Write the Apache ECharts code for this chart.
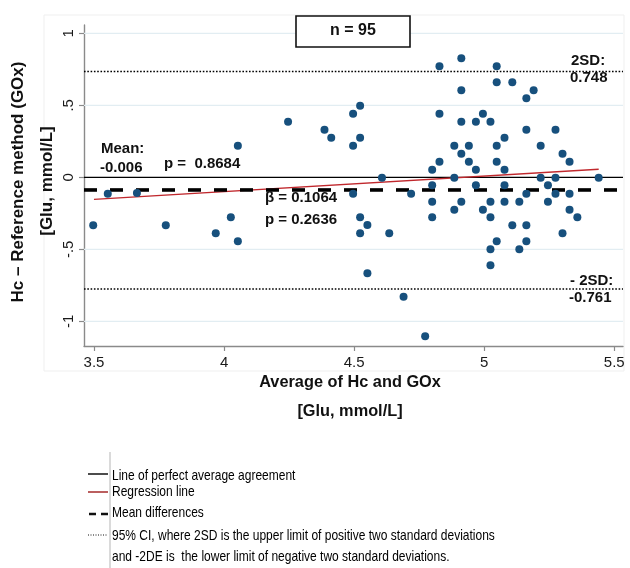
<!DOCTYPE html>
<html><head><meta charset="utf-8">
<script src="https://cdn.jsdelivr.net/npm/echarts@6/dist/echarts.min.js"></script>
<style>html,body{margin:0;padding:0;background:#fff}#c{width:630px;height:568px}</style>
</head><body><div id="c"></div>
<script>
// ---- data ----
const xTicks = [3.5, 4, 4.5, 5, 5.5];
const yTicks = [-1, -0.5, 0, 0.5, 1];
const xRange = [3.4616, 5.5335];
const yRange = [-1.1715, 1.0576];

const avgX = [
  3.497, 3.553, 3.665, 3.776, 3.968, 4.026, 4.053, 4.053,
  4.246, 4.386, 4.412, 4.496, 4.523, 4.523, 4.496, 4.607, 4.496, 4.523, 4.551, 4.523, 4.635, 4.551, 4.690,
  4.828, 4.912, 4.912, 4.828, 4.912, 4.968, 4.995, 4.885, 4.941, 4.912, 4.941, 4.828, 4.800, 4.968, 4.885,
  4.800, 4.968, 4.719, 4.800, 4.912, 4.885, 4.995, 4.800, 4.773,
  5.048, 5.048, 5.108, 5.162, 5.190, 5.024, 5.162, 5.078, 5.048, 5.217, 5.048, 5.078, 5.078, 5.217,
  5.162, 5.024, 5.078, 5.135, 5.024, 5.108, 5.162, 5.048, 5.162, 5.024, 5.135, 5.024,
  5.274, 5.301, 5.328, 5.274, 5.440, 5.245, 5.274, 5.328, 5.245, 5.328, 5.358, 5.301
];
const diffY = [
  -0.333, -0.114, -0.109, -0.333, -0.389, -0.278, -0.444, 0.219,
  0.386, 0.331, 0.275, 0.442, 0.497, 0.275, 0.219, -0.003, -0.114, -0.278, -0.331, -0.389, -0.389, -0.667, -0.829,
  0.771, 0.826, 0.604, 0.442, 0.386, 0.386, 0.442, 0.219, 0.219, 0.164, 0.108, 0.108, 0.053, 0.053, -0.003,
  -0.056, -0.056, -0.114, -0.169, -0.169, -0.225, -0.225, -0.278, -1.104,
  0.771, 0.660, 0.660, 0.549, 0.604, 0.386, 0.331, 0.275, 0.219, 0.219, 0.108, 0.053, -0.056, -0.003,
  -0.114, -0.169, -0.169, -0.169, -0.278, -0.333, -0.333, -0.444, -0.444, -0.500, -0.500, -0.611,
  0.331, 0.164, 0.108, -0.003, -0.003, -0.056, -0.114, -0.114, -0.169, -0.225, -0.278, -0.389
];

const zeroLine = 0;
const meanDiffLine = -0.088;
const upperSD = 0.735;
const lowerSD = -0.776;
const regX = [3.5, 5.44];
const regY = [-0.153, 0.056];

// ---- chart ----
const chart = echarts.init(document.getElementById('c'), null, {renderer: 'canvas'});
const FF = '"Liberation Sans", Arial, sans-serif';
const hLine = (y) => [[xRange[0], y], [xRange[1], y]];

const gridSeries = yTicks.filter(t => t !== 0).map(t => ({
  type: 'line', data: hLine(t), showSymbol: false, silent: true, z: 1,
  lineStyle: {color: '#e2edf2', width: 1.2}
}));

const option = {
  animation: false,
  backgroundColor: '#fff',
  grid: {left: 84, right: 7, top: 25, bottom: 222, containLabel: false},
  xAxis: {
    type: 'value', min: xRange[0], max: xRange[1],
    axisLine: {show: true, onZero: false, lineStyle: {color: '#8a8a8a', width: 1.4}},
    axisTick: {show: true, customValues: xTicks, length: 5, lineStyle: {color: '#8a8a8a', width: 1.2}},
    axisLabel: {customValues: xTicks, fontSize: 15, fontFamily: FF, color: '#1a1a1a', margin: 9,
      formatter: v => String(v)},
    splitLine: {show: false}
  },
  yAxis: {
    type: 'value', min: yRange[0], max: yRange[1],
    axisLine: {show: true, onZero: false, lineStyle: {color: '#8a8a8a', width: 1.4}},
    axisTick: {show: true, customValues: yTicks, length: 5, lineStyle: {color: '#8a8a8a', width: 1.2}},
    axisLabel: {customValues: yTicks, rotate: 90, fontSize: 15, fontFamily: FF, color: '#1a1a1a', margin: 8,
      formatter: v => String(v).replace('0.', '.')},
    splitLine: {show: false}
  },
  series: [
    ...gridSeries,
    {type: 'line', data: hLine(upperSD), showSymbol: false, silent: true, z: 2,
      lineStyle: {color: '#000', width: 1.6, type: [1.6, 1.7]}},
    {type: 'line', data: hLine(lowerSD), showSymbol: false, silent: true, z: 2,
      lineStyle: {color: '#000', width: 1.6, type: [1.6, 1.7]}},
    {type: 'line', data: hLine(zeroLine), showSymbol: false, silent: true, z: 2,
      lineStyle: {color: '#000', width: 1.3}},
    {type: 'line', data: regX.map((x, i) => [x, regY[i]]), showSymbol: false, silent: true, z: 3,
      lineStyle: {color: '#c0282d', width: 1.3}},
    {type: 'line', data: hLine(meanDiffLine), showSymbol: false, silent: true, z: 3,
      lineStyle: {color: '#000', width: 3.6, type: [13, 13]}},
    {type: 'scatter', data: avgX.map((x, i) => [x, diffY[i]]), symbolSize: 8, z: 5,
      itemStyle: {color: '#17507d', opacity: 1}}
  ],
  graphic: [
    {type: 'rect', shape: {x: 44, y: 15, width: 580, height: 356}, style: {fill: 'none', stroke: '#efefef', lineWidth: 1}, z: -1},
    {type: 'rect', shape: {x: 296, y: 16, width: 114, height: 31}, style: {fill: '#fff', stroke: '#111', lineWidth: 1.6}, z: 10},
    {type: 'text', z: 11, style: {text: 'n = 95', x: 353, y: 31, align: 'center', verticalAlign: 'middle', font: 'bold 16px ' + FF, fill: '#111'}},
    {type: 'text', z: 11, style: {text: 'Mean:', x: 101, y: 148.5, verticalAlign: 'middle', font: 'bold 15px ' + FF, fill: '#111'}},
    {type: 'text', z: 11, style: {text: '-0.006', x: 100, y: 167.5, verticalAlign: 'middle', font: 'bold 15px ' + FF, fill: '#111'}},
    {type: 'text', z: 11, style: {text: 'p =  0.8684', x: 164, y: 164, verticalAlign: 'middle', font: 'bold 15px ' + FF, fill: '#111'}},
    {type: 'text', z: 11, style: {text: 'β = 0.1064', x: 265, y: 198, verticalAlign: 'middle', font: 'bold 15px ' + FF, fill: '#111'}},
    {type: 'text', z: 11, style: {text: 'p = 0.2636', x: 265, y: 220, verticalAlign: 'middle', font: 'bold 15px ' + FF, fill: '#111'}},
    {type: 'text', z: 11, style: {text: '2SD:', x: 571, y: 60.5, verticalAlign: 'middle', font: 'bold 15px ' + FF, fill: '#111'}},
    {type: 'text', z: 11, style: {text: '0.748', x: 570, y: 78, verticalAlign: 'middle', font: 'bold 15px ' + FF, fill: '#111'}},
    {type: 'text', z: 11, style: {text: '- 2SD:', x: 570, y: 281, verticalAlign: 'middle', font: 'bold 15px ' + FF, fill: '#111'}},
    {type: 'text', z: 11, style: {text: '-0.761', x: 569, y: 298, verticalAlign: 'middle', font: 'bold 15px ' + FF, fill: '#111'}},
    // axis titles
    {type: 'text', z: 11, x: 18, y: 182, rotation: Math.PI / 2,
      style: {text: 'Hc – Reference method (GOx)', x: 0, y: 0, align: 'center', verticalAlign: 'middle', font: 'bold 17px ' + FF, fill: '#111'}},
    {type: 'text', z: 11, x: 47, y: 181, rotation: Math.PI / 2,
      style: {text: '[Glu, mmol/L]', x: 0, y: 0, align: 'center', verticalAlign: 'middle', font: 'bold 17px ' + FF, fill: '#111'}},
    {type: 'text', z: 11, x: 350, y: 382, scaleX: 0.96, style: {text: 'Average of Hc and GOx', x: 0, y: 0, align: 'center', verticalAlign: 'middle', font: 'bold 17px ' + FF, fill: '#111'}},
    {type: 'text', z: 11, x: 350, y: 411, scaleX: 0.96, style: {text: '[Glu, mmol/L]', x: 0, y: 0, align: 'center', verticalAlign: 'middle', font: 'bold 17px ' + FF, fill: '#111'}},
    // legend
    {type: 'line', shape: {x1: 110, y1: 452, x2: 110, y2: 568}, style: {stroke: '#b5b5b5', lineWidth: 1}},
    {type: 'line', shape: {x1: 88, y1: 474, x2: 108, y2: 474}, style: {stroke: '#111', lineWidth: 1.5}},
    {type: 'line', shape: {x1: 88, y1: 492, x2: 108, y2: 492}, style: {stroke: '#a52a2a', lineWidth: 1.5}},
    {type: 'line', shape: {x1: 89, y1: 514, x2: 96, y2: 514}, style: {stroke: '#111', lineWidth: 2.5}},
    {type: 'line', shape: {x1: 101, y1: 514, x2: 108, y2: 514}, style: {stroke: '#111', lineWidth: 2.5}},
    {type: 'line', shape: {x1: 88, y1: 535, x2: 108, y2: 535}, style: {stroke: '#111', lineWidth: 1, lineDash: [1, 1.5]}},
    {type: 'text', x: 112, y: 475.5, scaleX: 0.8, style: {text: 'Line of perfect average agreement', x: 0, y: 0, verticalAlign: 'middle', font: '15px ' + FF, fill: '#000'}},
    {type: 'text', x: 112, y: 492, scaleX: 0.8, style: {text: 'Regression line', x: 0, y: 0, verticalAlign: 'middle', font: '15px ' + FF, fill: '#000'}},
    {type: 'text', x: 112, y: 513, scaleX: 0.8, style: {text: 'Mean differences', x: 0, y: 0, verticalAlign: 'middle', font: '15px ' + FF, fill: '#000'}},
    {type: 'text', x: 112, y: 536, scaleX: 0.8, style: {text: '95% CI, where 2SD is the upper limit of positive two standard deviations', x: 0, y: 0, verticalAlign: 'middle', font: '15px ' + FF, fill: '#000'}},
    {type: 'text', x: 112, y: 557, scaleX: 0.8, style: {text: 'and -2DE is  the lower limit of negative two standard deviations.', x: 0, y: 0, verticalAlign: 'middle', font: '15px ' + FF, fill: '#000'}}
  ]
};
chart.setOption(option);
</script>
</body></html>
